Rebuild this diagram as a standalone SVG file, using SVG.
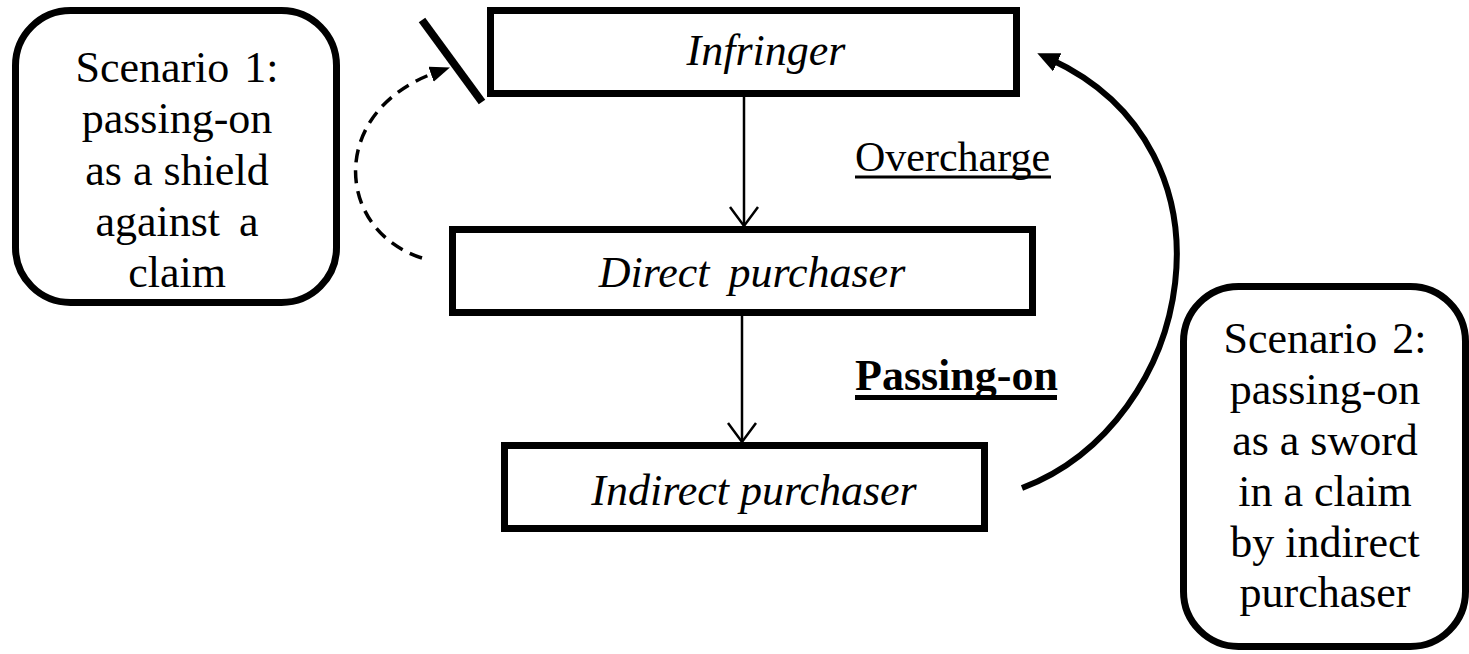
<svg xmlns="http://www.w3.org/2000/svg" width="1469" height="654" viewBox="0 0 1469 654">
<style>
.box{fill:#fff;stroke:#000;stroke-width:7}
.rbox{fill:#fff;stroke:#000;stroke-width:7}
.t{font-family:"Liberation Serif","Times New Roman",serif;font-size:44px;fill:#000}
.it{font-style:italic}
.c{text-anchor:middle}
.thin{stroke:#000;stroke-width:2.5;fill:none}
.ul{stroke:#000;stroke-width:3}
</style>
<defs>
<marker id="solidHead" markerUnits="userSpaceOnUse" markerWidth="24" markerHeight="22" refX="8" refY="10" orient="auto">
<path d="M0,0 L22,10 L0,20 z" fill="#000"/>
</marker>
<marker id="dashHead" markerUnits="userSpaceOnUse" markerWidth="22" markerHeight="18" refX="6" refY="8" orient="auto">
<path d="M0,0 L20,8 L0,16 z" fill="#000"/>
</marker>
</defs>
<rect width="1469" height="654" fill="#fff"/>

<g id="scenario1">
<rect class="rbox" x="15.5" y="10.5" width="321" height="292" rx="55" ry="55"/>
<text class="t c" x="177" y="82" word-spacing="4">Scenario 1:</text>
<text class="t c" x="177" y="133">passing-on</text>
<text class="t c" x="177" y="185">as a shield</text>
<text class="t c" x="177" y="236" word-spacing="8">against a</text>
<text class="t c" x="177" y="287">claim</text>
</g>

<g id="infringer">
<rect class="box" x="490.5" y="10.5" width="526" height="83"/>
<text class="t it c" x="766" y="65">Infringer</text>
</g>

<g id="direct">
<rect class="box" x="452.5" y="229.5" width="580" height="83"/>
<text class="t it c" x="752" y="287" word-spacing="8">Direct purchaser</text>
</g>

<g id="indirect">
<rect class="box" x="504.5" y="445.5" width="480" height="83"/>
<text class="t it c" x="754" y="505">Indirect purchaser</text>
</g>

<g id="scenario2">
<rect class="rbox" x="1183.5" y="286.5" width="282" height="360" rx="55" ry="55"/>
<text class="t c" x="1325" y="353" word-spacing="4">Scenario 2:</text>
<text class="t c" x="1325" y="404">passing-on</text>
<text class="t c" x="1325" y="455">as a sword</text>
<text class="t c" x="1325" y="506">in a claim</text>
<text class="t c" x="1325" y="557">by indirect</text>
<text class="t c" x="1325" y="607">purchaser</text>
</g>

<g id="connectors">
<line class="thin" x1="744" y1="97" x2="744" y2="226"/>
<polyline class="thin" points="730,207 744,226 758,207"/>
<line class="thin" x1="742" y1="316" x2="742" y2="442"/>
<polyline class="thin" points="728,423 742,442 756,423"/>
<text class="t" x="855" y="171" style="font-size:42px">Overcharge</text>
<line class="ul" x1="855" y1="177" x2="1051" y2="177"/>
<text class="t" x="855" y="390" style="font-weight:bold">Passing-on</text>
<line class="ul" x1="855" y1="397.5" x2="1057" y2="397.5" style="stroke-width:5"/>
<line x1="422" y1="20" x2="482" y2="102" stroke="#000" stroke-width="8"/>
<path d="M422,258 C334,230 328,110 436.7,72.2" fill="none" stroke="#000" stroke-width="3.5" stroke-dasharray="13,8" marker-end="url(#dashHead)"/>
<path d="M1022,488 C1195,422 1248,150 1050,59" fill="none" stroke="#000" stroke-width="6" marker-end="url(#solidHead)"/>
</g>
</svg>
